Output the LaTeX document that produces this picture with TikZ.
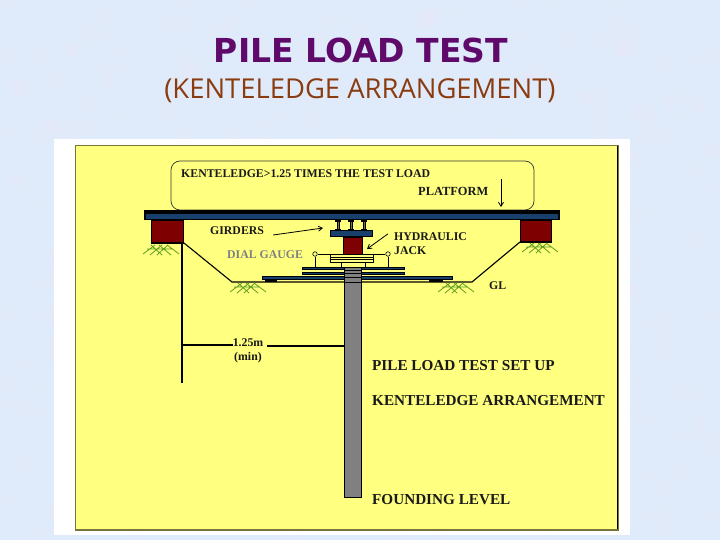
\documentclass[tikz,border=0pt]{standalone}
\usepackage{fontspec}
\setmainfont{Liberation Serif}
\newfontfamily\titlefont{DejaVu Sans}
\newfontfamily\subfont{Open Sans}
\usetikzlibrary{arrows.meta,positioning}
\definecolor{slidebg}{HTML}{DFEBFA}
\definecolor{slidepatch}{HTML}{F1E6F8}
\definecolor{panelyellow}{HTML}{FFFF80}
\definecolor{panelshade}{HTML}{77763A}
\definecolor{beamblue}{HTML}{17406D}
\definecolor{blockred}{HTML}{7F0000}
\definecolor{titlepurple}{HTML}{5F0A6B}
\definecolor{subbrown}{HTML}{8A3B10}
\definecolor{grassgreen}{HTML}{5E9E20}
\definecolor{strutolive}{HTML}{77763A}
\tikzset{
  lbl/.style={font=\bfseries\fontsize{11.8}{14}\selectfont, inner sep=0pt, anchor=west, text=black!90},
  biglbl/.style={lbl, font=\bfseries\fontsize{15.2}{17}\selectfont},
  plate/.style={draw=black, fill=beamblue, line width=0.7pt},
  block/.style={draw=black, fill=blockred, line width=1.6pt},
  grass/.style={grassgreen, line width=0.8pt},
  pointer/.style={-{Straight Barb[length=4pt,width=5pt]}, line width=0.8pt},
  gaugedot/.style={circle, draw=black, fill=panelyellow, inner sep=0pt, minimum size=4.5pt, line width=0.6pt}
}
\newcommand{\grasstuft}[2]{%
  \draw[grass, shift={(#1,#2)}] (0,9) -- (12,0) (7,10) -- (19,0) (14,10) -- (25,0)
    (8,0) -- (19,10) (16,0) -- (28,10) (24,0) -- (36,9) (4,4) -- (30,4);}
\begin{document}
\begin{tikzpicture}[x=1pt,y=-1pt]
  \useasboundingbox (0,0) rectangle (720,540);
  % Slide ground and panel
  \fill[slidebg] (0,0) rectangle (720,540);
  \pgfmathsetseed{41}
  \begin{scope}
    \clip (0,0) rectangle (720,540);
    \foreach \n in {1,...,500} {
      \pgfmathsetmacro{\px}{random(0,720)}
      \pgfmathsetmacro{\py}{random(0,540)}
      \pgfmathsetmacro{\pr}{random(3,10)}
      \fill[slidepatch, opacity=0.16] (\px,\py) circle (\pr);
    }
  \end{scope}
  \fill[white] (54,139) rectangle (630,535);
  \fill[panelshade] (75,145) rectangle (618.5,530.5);
  \fill[black] (76,146) rectangle (618,529);
  \fill[panelyellow] (76,146) rectangle (617,528.5);

  % Titles
  \node[font=\titlefont\bfseries\fontsize{33}{36}\selectfont, text=titlepurple, inner sep=0pt] (title) at (361,50) {PILE LOAD TEST};
  \node[font=\subfont\fontsize{27.4}{30}\selectfont, text=subbrown, inner sep=0pt] (subtitle) at (360,91) {(KENTELEDGE ARRANGEMENT)};

  % Kentledge box
  \draw[rounded corners=9pt, line width=0.7pt, draw=black!80] (171,161) rectangle (534,210);

  % Ground line and slopes
  \draw[line width=1.1pt] (184,243) -- (232,282) -- (472,282) -- (520,242);

  % Reference line
  \draw[line width=1.9pt] (182,243) -- (182,383);

  % Lower plates and pads
  \draw[plate] (262,276) rectangle (452,279);
  \fill[black] (265,279) rectangle (277,282);
  \fill[black] (429,279) rectangle (443,282);
  \draw[plate] (302,267) rectangle (404,269.5);
  \draw[plate] (302,272) rectangle (404,274);

  % Pile
  \draw[fill=black!50, line width=0.8pt] (344,267) rectangle (361,497);
  \foreach \sy in {270,273,277,282} {
    \draw[line width=0.9pt] (344,\sy) -- (361,\sy);
  }

  % Bearing plates
  \draw[fill=panelyellow, line width=0.7pt] (341,262) rectangle (365,267);
  \draw[fill=panelyellow, line width=0.7pt] (330,254) rectangle (373,262);
  \draw[line width=0.7pt] (330,257) -- (373,257) (330,259.5) -- (373,259.5);

  % Jack
  \draw[fill=blockred, line width=0.9pt] (343,237) rectangle (362,254);
  \draw[plate, line width=1pt] (330.5,230.5) rectangle (372.5,236.5);

  % Struts under platform
  \foreach \sx in {338,351,364} {
    \draw[fill=strutolive, line width=0.5pt] (\sx-1,220) rectangle (\sx+1,230);
    \draw[line width=1.4pt] (\sx-3,221) -- (\sx+3,221);
    \draw[line width=1.2pt] (\sx-3,229.5) -- (\sx+3,229.5);
  }

  % Dial gauges
  \node[gaugedot] (gaugeL) at (315,254) {};
  \node[gaugedot] (gaugeR) at (388,254) {};
  \draw[line width=0.7pt] (gaugeL) -- (330,254);
  \draw[line width=0.7pt] (gaugeR) -- (373,254);
  \draw[line width=0.7pt] (gaugeL) -- (315,267);
  \draw[line width=0.7pt] (gaugeR) -- (388,267);

  % Platform beam
  \fill[black] (144,210.5) rectangle (560,220);
  \fill[beamblue] (146,214) rectangle (558,219);

  % Blocks
  \draw[block] (151.5,220.5) rectangle (183.5,243);
  \draw[block] (520.5,220.5) rectangle (551.5,242);

  % Grass
  \grasstuft{143}{245}
  \grasstuft{522}{243}
  \grasstuft{230}{283}
  \grasstuft{438}{283}

  % Labels
  \node[lbl] (kent) at (181,174) {KENTELEDGE>1.25 TIMES THE TEST LOAD};
  \node[lbl, font=\bfseries\fontsize{12.4}{14}\selectfont] (platform) at (418,191) {PLATFORM};
  \node[lbl] (girders) at (210,231) {GIRDERS};
  \node[lbl, text=black!50] (dial) at (227,255) {DIAL GAUGE};
  \node[lbl, align=left] (jack) at (394,244) {HYDRAULIC\\JACK};
  \node[lbl] (gl) at (489,286) {GL};
  \node[lbl, align=center, anchor=north] (dist) at (248,338) {1.25m\\(min)};
  \node[biglbl] (setup) at (372,366) {PILE LOAD TEST SET UP};
  \node[biglbl] (arr) at (372,401) {KENTELEDGE ARRANGEMENT};
  \node[biglbl] (found) at (372,500) {FOUNDING LEVEL};

  % Pointers and dimension line
  \draw[pointer] (501,179) -- (501,207);
  \coordinate (girderEnd) at (323,228);
  \draw[pointer] (girders.east) ++(9,4) -- (girderEnd);
  \coordinate (jackEnd) at (367,249);
  \draw[pointer] (jack.north west) ++(-6,1) -- (jackEnd);
  \draw[line width=1.3pt] (183,345) -- (dist.north west |- 0,345);
  \draw[line width=1.3pt] (dist.north east |- 0,346) ++(4,0) -- (344,346);
\end{tikzpicture}
\end{document}
